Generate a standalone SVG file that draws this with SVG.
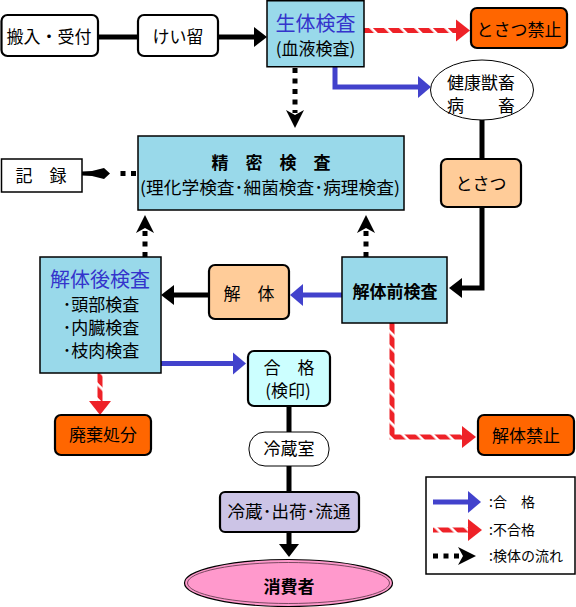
<svg xmlns="http://www.w3.org/2000/svg" width="576" height="607" viewBox="0 0 576 607">
<style>
text{font-family:"Noto Sans CJK JP","Noto Sans",sans-serif;fill:#000;text-anchor:middle;font-size:17px}
.rbox{stroke:#000;stroke-width:2.2}
.sbox{fill:#99D9EA;stroke:#000;stroke-width:1.5}
.white{fill:#fff}
.orange{fill:#FF6600}
.peach{fill:#FFCC99}
.title{fill:#3434CC;font-size:20px}
.bold{font-weight:bold}
.blk{fill:none;stroke:#000;stroke-width:5}
.blu{fill:none;stroke:#4242CC;stroke-width:5}
.red{fill:none;stroke:url(#stripe);stroke-width:5}
.dot{fill:none;stroke:#000;stroke-width:5;stroke-dasharray:5 5.5}
.leg{font-size:14px;text-anchor:start}
</style>
<defs>
<pattern id="stripe" patternUnits="userSpaceOnUse" width="10.6" height="10.6" patternTransform="rotate(-45)"><rect x="0" y="0" width="10.6" height="10.6" fill="#fff"/><rect x="0" y="0" width="8" height="10.6" fill="#EE2228"/></pattern>
<marker id="mBlk" markerUnits="userSpaceOnUse" markerWidth="14" markerHeight="20" refX="0" refY="10" orient="auto" overflow="visible"><path d="M0,0 L13,10 L0,20 z" fill="#000"/></marker>
<marker id="mBlu" markerUnits="userSpaceOnUse" markerWidth="14" markerHeight="22" refX="0" refY="11" orient="auto" overflow="visible"><path d="M0,0 L13,11 L0,22 z" fill="#4242CC"/></marker>
<marker id="mRed" markerUnits="userSpaceOnUse" markerWidth="15" markerHeight="22" refX="0" refY="11" orient="auto" overflow="visible"><path d="M0,0 L14,11 L0,22 z" fill="#EE2228"/></marker>
<marker id="mDot" markerUnits="userSpaceOnUse" markerWidth="19" markerHeight="18" refX="3" refY="9" orient="auto" overflow="visible"><path d="M0,0 L18,9 L0,18 L5,9 z" fill="#000"/></marker>
</defs>

<g id="connectors">
<path class="blk" d="M98,37 H138"/>
<path class="blk" d="M218,37 H254" marker-end="url(#mBlk)"/>
<path class="red" d="M364,30.5 H456" marker-end="url(#mRed)"/>
<path class="blu" d="M335,67 V87 H418" marker-end="url(#mBlu)"/>
<path class="blk" d="M482,120 V159"/>
<path class="blk" d="M482,207 V288 H462" marker-end="url(#mBlk)"/>
<path class="blu" d="M342,295 H303" marker-end="url(#mBlu)"/>
<path class="blk" d="M209,295 H174" marker-end="url(#mBlk)"/>
<path class="blu" d="M161,363.5 H233" marker-end="url(#mBlu)"/>
<path class="blk" d="M289,406 V492"/>
<path class="blk" d="M289,532 V544" marker-end="url(#mBlk)"/>
<path class="red" d="M100,373 V401" marker-end="url(#mRed)"/>
<path class="red" d="M392,323 V437 H462" marker-end="url(#mRed)"/>
<path class="dot" d="M295,68 V113" marker-end="url(#mDot)"/>
<path class="dot" d="M136,173.5 H115"/>
<path d="M82,171.5 L92,171 L104,168 L110,173.5 L104,179 L92,176 L82,175.5 z" fill="#000"/>
<path class="dot" d="M145,257 V230" marker-end="url(#mDot)"/>
<path class="dot" d="M366,257 V230" marker-end="url(#mDot)"/>
</g>

<g id="n-hannyu"><rect class="rbox white" x="1.5" y="15" width="96.5" height="41" rx="6"/><text x="49" y="43">搬入・受付</text></g>
<g id="n-keiryu"><rect class="rbox white" x="138" y="15" width="80" height="41" rx="6"/><text x="178" y="43">けい留</text></g>
<g id="n-seitai"><rect class="sbox" x="267" y="0.75" width="97" height="66"/><text class="title" x="315.5" y="30.5">生体検査</text><text x="315.5" y="55" font-size="15.5">(血液検査)</text></g>
<g id="n-tosatsukinshi"><rect class="rbox orange" x="471" y="8" width="96" height="40" rx="6"/><text x="519" y="35.5" font-size="16">とさつ禁止</text></g>
<g id="n-kenko"><ellipse cx="482" cy="90" rx="51.5" ry="30" fill="#fff" stroke="#000" stroke-width="1"/><text x="481" y="89" font-size="15.5">健康獣畜</text><text x="481" y="112" font-size="15.5">病　　畜</text></g>
<g id="n-seimitsu"><rect class="sbox" x="138" y="136" width="266" height="74"/><text class="bold" x="271" y="169" font-size="17">精　密　検　査</text><text x="270" y="194" font-size="16" textLength="260" lengthAdjust="spacingAndGlyphs">(理化学検査･細菌検査･病理検査)</text></g>
<g id="n-kiroku"><rect x="1.5" y="159" width="80.5" height="33" fill="#fff" stroke="#000" stroke-width="1.5"/><text x="41" y="182" font-size="16">記　録</text></g>
<g id="n-tosatsu"><rect class="rbox peach" x="441" y="159" width="80" height="48" rx="6"/><text x="481" y="190">とさつ</text></g>
<g id="n-kaitaimae"><rect class="sbox" x="342" y="257" width="105" height="66"/><text class="bold" x="395" y="298" font-size="19">解体前検査</text></g>
<g id="n-kaitai"><rect class="rbox peach" x="209" y="265" width="80" height="54" rx="6"/><text x="249" y="300" font-size="16">解　体</text></g>
<g id="n-kaitaigo"><rect class="sbox" x="40" y="257" width="121" height="116"/><text class="title" x="100" y="287">解体後検査</text><text x="101" y="311" font-size="15.5">･頭部検査</text><text x="101" y="334" font-size="15.5">･内臓検査</text><text x="101" y="357" font-size="15.5">･枝肉検査</text></g>
<g id="n-gokaku"><rect class="rbox" x="248" y="351" width="82" height="55" rx="6" fill="#CCFFFF"/><text x="289" y="374" font-size="15.5">合　格</text><text x="288" y="397" font-size="15.5">(検印)</text></g>
<g id="n-haiki"><rect class="rbox orange" x="55" y="415" width="96" height="40" rx="6"/><text x="103" y="441">廃棄処分</text></g>
<g id="n-kaitaikinshi"><rect class="rbox orange" x="478" y="415" width="96" height="40" rx="6"/><text x="526" y="442">解体禁止</text></g>
<g id="n-reizoshitsu"><rect x="249" y="432" width="80" height="34" rx="16" fill="#fff" stroke="#000" stroke-width="1"/><text x="289" y="455">冷蔵室</text></g>
<g id="n-ryutsu"><rect class="rbox" x="220" y="492" width="139" height="40" rx="5" fill="#CCC4E6"/><text x="289" y="518" textLength="123" lengthAdjust="spacingAndGlyphs">冷蔵･出荷･流通</text></g>
<g id="n-shohisha"><ellipse cx="288.5" cy="583" rx="104" ry="23.5" fill="#FF99CC" stroke="#000" stroke-width="1.2"/><ellipse cx="288.5" cy="583" rx="101" ry="20.5" fill="none" stroke="#553344" stroke-width="0.8"/><text class="bold" x="289" y="593" font-size="22">消費者</text></g>

<g id="legend">
<rect x="426" y="477" width="149" height="97" fill="#fff" stroke="#000" stroke-width="1.5"/>
<path class="blu" d="M433,502 H468" marker-end="url(#mBlu)"/>
<path class="red" d="M433,530 H468" marker-end="url(#mRed)"/>
<path class="dot" d="M433,556 H461" marker-end="url(#mDot)"/>
<text class="leg" x="489" y="507">:合　格</text>
<text class="leg" x="489" y="535">:不合格</text>
<text class="leg" x="489" y="561">:検体の流れ</text>
</g>
</svg>
